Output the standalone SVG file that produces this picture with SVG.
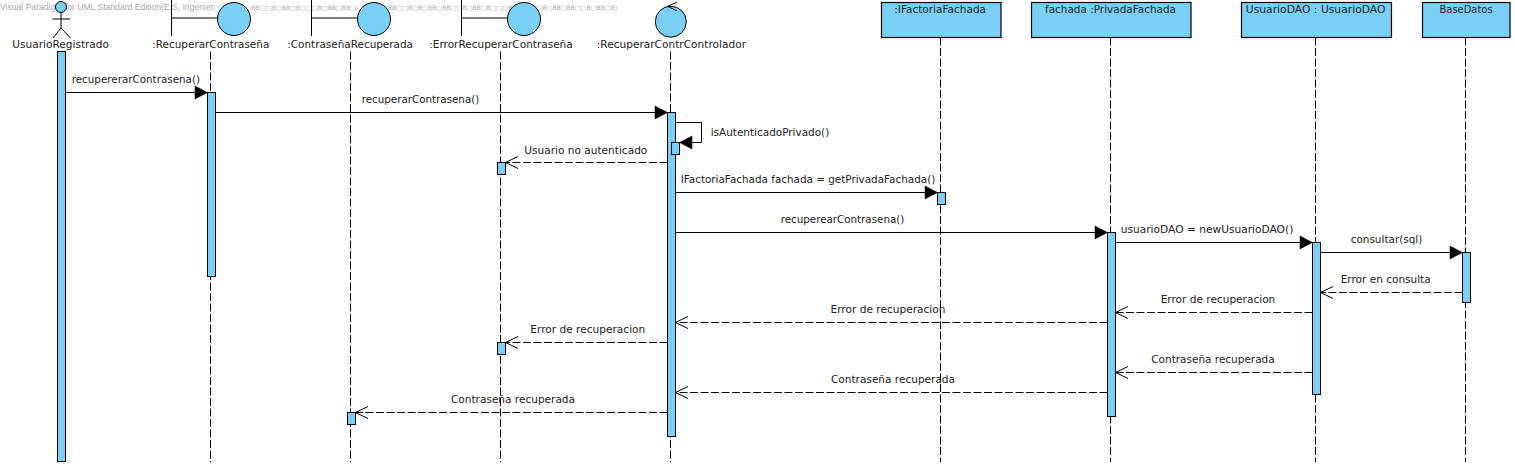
<svg xmlns="http://www.w3.org/2000/svg" width="1515" height="466" viewBox="0 0 1515 466">
<style>
text{font-family:"DejaVu Sans","Liberation Sans",sans-serif;font-size:11px;fill:#222}
.wm{font-family:"Liberation Sans",sans-serif;font-size:8.6px;fill:#a8a8a8}
.wt{font-family:"DejaVu Sans",sans-serif;font-size:6.35px;fill:#a8a8a8}
.shape{fill:#7ACFF5;stroke:#000;stroke-width:1}
.box{fill:#7ACFF5;stroke:#000;stroke-width:1.2}
.line{fill:none;stroke:#000;stroke-width:1}
.life{fill:none;stroke:#000;stroke-width:1;stroke-dasharray:8 2.5}
.msg{fill:none;stroke:#000;stroke-width:1}
.ret{fill:none;stroke:#000;stroke-width:1;stroke-dasharray:8 2.5}
</style>
<defs>
<marker id="call" markerUnits="userSpaceOnUse" markerWidth="15" markerHeight="15" refX="13.5" refY="7.5" orient="auto">
<path d="M1 1L13.5 7.5L1 14Z" fill="#000" stroke="#000" stroke-width="0.5"/>
</marker>
<marker id="reply" markerUnits="userSpaceOnUse" markerWidth="14" markerHeight="14" refX="13" refY="7" orient="auto">
<path d="M0.5 1L13 7L0.5 13" fill="none" stroke="#000" stroke-width="1"/>
</marker>
</defs>
<text class="wm" x="0" y="9.5">Visual Paradigm for UML Standard Edition(E.S. Ingenier<tspan class="wt">□□8□8□□88□□8□88□8□□□8□88□88□□8□□8□88□□8□8□88□88□□8□88□8□□□8□8□88□8□88□88□□8□88□8)</tspan></text>

<g id="node-usuario-registrado">
<circle class="shape" cx="61" cy="7" r="5.5"/>
<path class="line" d="M61 12.5V28M52.5 19H70M53 38L61 28L70.5 38"/>
<text x="12.3" y="48" textLength="96.7" lengthAdjust="spacingAndGlyphs">UsuarioRegistrado</text>
<path class="life" d="M61 51.5V462"/>
<rect class="shape" x="57.5" y="51.5" width="8" height="410"/>
</g>
<g id="node-recuperar-contrasena">
<path class="line" d="M171.5 0V36M171.5 18H217.5"/>
<circle class="shape" cx="234" cy="19" r="16.5"/>
<text x="152.3" y="48" textLength="117" lengthAdjust="spacingAndGlyphs">:RecuperarContraseña</text>
<path class="life" d="M210.5 51.5V462"/>
<rect class="shape" x="207.5" y="92.5" width="8" height="184"/>
</g>
<g id="node-contrasena-recuperada">
<path class="line" d="M311.5 0V36M311.5 18H357.5"/>
<circle class="shape" cx="374" cy="19" r="16.5"/>
<text x="287.3" y="48" textLength="125.7" lengthAdjust="spacingAndGlyphs">:ContraseñaRecuperada</text>
<path class="life" d="M350.5 51.5V462"/>
<rect class="shape" x="347.5" y="412.5" width="8" height="12"/>
</g>
<g id="node-error-recuperar">
<path class="line" d="M461.5 0V36M461.5 18H507.5"/>
<circle class="shape" cx="524" cy="19" r="16.5"/>
<text x="429.3" y="48" textLength="143.4" lengthAdjust="spacingAndGlyphs">:ErrorRecuperarContraseña</text>
<path class="life" d="M500.5 51.5V462"/>
<rect class="shape" x="497.5" y="162.5" width="8" height="12"/>
<rect class="shape" x="497.5" y="342.5" width="8" height="12"/>
</g>
<g id="node-controlador">
<circle class="shape" cx="670.8" cy="21.7" r="15.5"/>
<path class="line" d="M676.7 2.3L667.5 6.3L676.7 10.7"/>
<text x="596.7" y="48" textLength="149.3" lengthAdjust="spacingAndGlyphs">:RecuperarContrControlador</text>
<path class="life" d="M670.5 51.5V462"/>
<rect class="shape" x="667.5" y="112.5" width="8" height="324"/>
<rect class="shape" x="671.5" y="142.5" width="8" height="12"/>
</g>
<g id="node-ifactoria">
<rect class="box" x="881.5" y="2.5" width="119.5" height="35"/>
<text x="894.3" y="12.7" textLength="91.7" lengthAdjust="spacingAndGlyphs">:IFactoriaFachada</text>
<path class="life" d="M940.5 37.5V462"/>
<rect class="shape" x="937.5" y="192.5" width="8" height="12"/>
</g>
<g id="node-privada-fachada">
<rect class="box" x="1031.5" y="2.5" width="159.5" height="35"/>
<text x="1045" y="12.7" textLength="131" lengthAdjust="spacingAndGlyphs">fachada :PrivadaFachada</text>
<path class="life" d="M1110.5 37.5V462"/>
<rect class="shape" x="1107.5" y="232.5" width="8" height="184"/>
</g>
<g id="node-usuario-dao">
<rect class="box" x="1241.5" y="2.5" width="150" height="35"/>
<text x="1245.8" y="12.7" textLength="139.7" lengthAdjust="spacingAndGlyphs">UsuarioDAO : UsuarioDAO</text>
<path class="life" d="M1315.5 37.5V462"/>
<rect class="shape" x="1312.5" y="242.5" width="8" height="152"/>
</g>
<g id="node-base-datos">
<rect class="box" x="1422.5" y="2.5" width="87.5" height="35"/>
<text x="1439.5" y="12.7" textLength="53.1" lengthAdjust="spacingAndGlyphs">BaseDatos</text>
<path class="life" d="M1465.5 37.5V462"/>
<rect class="shape" x="1462.5" y="252.5" width="8" height="50"/>
</g>

<g id="connectors">
<path class="msg" marker-end="url(#call)" d="M65.5 92.5H207.5"/>
<path class="msg" marker-end="url(#call)" d="M215.5 112.5H667.5"/>
<path class="msg" marker-end="url(#call)" d="M675.5 122.5H701.5V142.5H679.5"/>
<path class="ret" marker-end="url(#reply)" d="M667.5 162.5H505.5"/>
<path class="msg" marker-end="url(#call)" d="M675.5 192.5H937.5"/>
<path class="msg" marker-end="url(#call)" d="M675.5 232.5H1107.5"/>
<path class="msg" marker-end="url(#call)" d="M1115.5 242.5H1312.5"/>
<path class="msg" marker-end="url(#call)" d="M1320.5 252.5H1462.5"/>
<path class="ret" marker-end="url(#reply)" d="M1462.5 292.5H1320.5"/>
<path class="ret" marker-end="url(#reply)" d="M1312.5 312.5H1115.5"/>
<path class="ret" marker-end="url(#reply)" d="M1107.5 322.5H675.5"/>
<path class="ret" marker-end="url(#reply)" d="M667.5 342.5H505.5"/>
<path class="ret" marker-end="url(#reply)" d="M1312.5 372.5H1115.5"/>
<path class="ret" marker-end="url(#reply)" d="M1107.5 392.5H675.5"/>
<path class="ret" marker-end="url(#reply)" d="M667.5 412.5H355.5"/>
<text x="71.7" y="82.7" textLength="128.3" lengthAdjust="spacingAndGlyphs">recupererarContrasena()</text>
<text x="361.7" y="102.7" textLength="117.6" lengthAdjust="spacingAndGlyphs">recuperarContrasena()</text>
<text x="710.7" y="135.7" textLength="118.6" lengthAdjust="spacingAndGlyphs">isAutenticadoPrivado()</text>
<text x="524.3" y="153.7" textLength="123" lengthAdjust="spacingAndGlyphs">Usuario no autenticado</text>
<text x="680.7" y="182.7" textLength="254.6" lengthAdjust="spacingAndGlyphs">IFactoriaFachada fachada = getPrivadaFachada()</text>
<text x="780.7" y="222.7" textLength="123.6" lengthAdjust="spacingAndGlyphs">recuperearContrasena()</text>
<text x="1120.7" y="232.7" textLength="172.6" lengthAdjust="spacingAndGlyphs">usuarioDAO = newUsuarioDAO()</text>
<text x="1350.7" y="242.7" textLength="71.6" lengthAdjust="spacingAndGlyphs">consultar(sql)</text>
<text x="1340.7" y="282.7" textLength="90" lengthAdjust="spacingAndGlyphs">Error en consulta</text>
<text x="1160.7" y="302.7" textLength="114.6" lengthAdjust="spacingAndGlyphs">Error de recuperacion</text>
<text x="830.5" y="312.7" textLength="115" lengthAdjust="spacingAndGlyphs">Error de recuperacion</text>
<text x="530.3" y="332.7" textLength="115" lengthAdjust="spacingAndGlyphs">Error de recuperacion</text>
<text x="1151.3" y="362.7" textLength="123.4" lengthAdjust="spacingAndGlyphs">Contraseña recuperada</text>
<text x="831" y="382.7" textLength="124" lengthAdjust="spacingAndGlyphs">Contraseña recuperada</text>
<text x="451" y="402.7" textLength="124" lengthAdjust="spacingAndGlyphs">Contraseña recuperada</text>
</g>
</svg>
